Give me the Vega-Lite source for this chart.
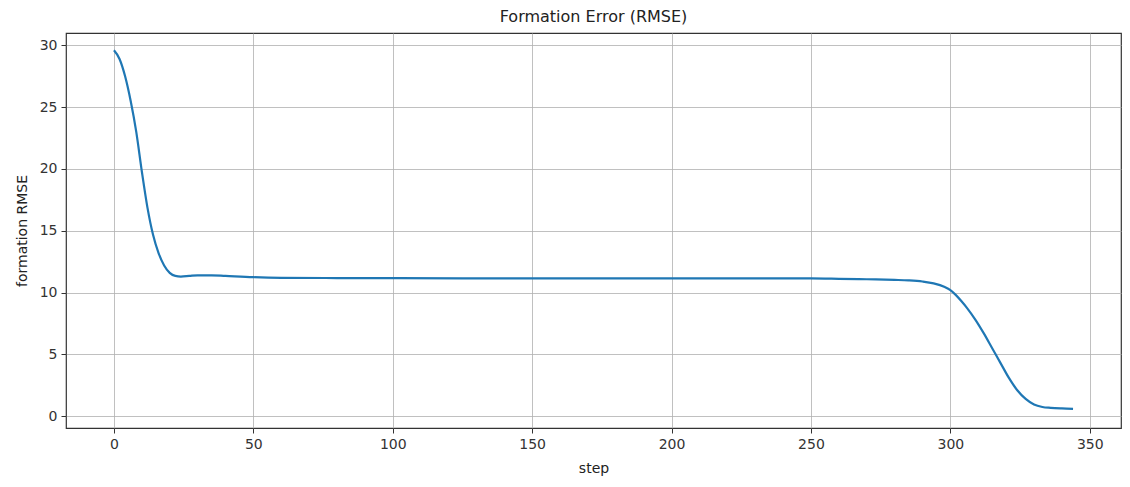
{
  "$schema": "https://vega.github.io/schema/vega-lite/v6.json",
  "autosize": {"type": "none"},
  "padding": {"left": 66, "top": 33, "right": 9, "bottom": 59},
  "width": 1055,
  "height": 395,
  "background": "white",
  "title": {"text": "Formation Error (RMSE)", "fontSize": 16, "fontWeight": "normal", "font": "DejaVu Sans", "color": "#222", "offset": 8},
  "config": {
    "view": {"stroke": "#333", "strokeWidth": 1.2},
    "axis": {
      "labelFont": "DejaVu Sans", "labelFontSize": 14, "labelColor": "#333",
      "titleFont": "DejaVu Sans", "titleFontSize": 14, "titleFontWeight": "normal", "titleColor": "#222",
      "gridColor": "#b0b0b0", "gridWidth": 1, "gridOpacity": 0.8,
      "tickColor": "#333", "tickSize": 5, "domain": false
    }
  },
  "data": {"values": [
    {"step": 0, "rmse": 29.6}, {"step": 2, "rmse": 28.9}, {"step": 4, "rmse": 27.5},
    {"step": 6, "rmse": 25.5}, {"step": 8, "rmse": 23.0}, {"step": 10, "rmse": 19.8},
    {"step": 12, "rmse": 16.9}, {"step": 14, "rmse": 14.7}, {"step": 16, "rmse": 13.2},
    {"step": 18, "rmse": 12.2}, {"step": 20, "rmse": 11.6}, {"step": 22, "rmse": 11.35},
    {"step": 24, "rmse": 11.3}, {"step": 27, "rmse": 11.35}, {"step": 30, "rmse": 11.4},
    {"step": 35, "rmse": 11.4}, {"step": 40, "rmse": 11.35}, {"step": 50, "rmse": 11.25},
    {"step": 60, "rmse": 11.2}, {"step": 80, "rmse": 11.18}, {"step": 100, "rmse": 11.17},
    {"step": 125, "rmse": 11.16}, {"step": 150, "rmse": 11.16}, {"step": 175, "rmse": 11.16},
    {"step": 200, "rmse": 11.16}, {"step": 225, "rmse": 11.15}, {"step": 250, "rmse": 11.15},
    {"step": 260, "rmse": 11.12}, {"step": 270, "rmse": 11.08}, {"step": 280, "rmse": 11.03},
    {"step": 285, "rmse": 10.99}, {"step": 290, "rmse": 10.9}, {"step": 294, "rmse": 10.75},
    {"step": 298, "rmse": 10.45}, {"step": 300, "rmse": 10.2}, {"step": 302, "rmse": 9.8},
    {"step": 304, "rmse": 9.3}, {"step": 306, "rmse": 8.75}, {"step": 309, "rmse": 7.8},
    {"step": 312, "rmse": 6.7}, {"step": 315, "rmse": 5.5},
    {"step": 318, "rmse": 4.3}, {"step": 321, "rmse": 3.1}, {"step": 324, "rmse": 2.1},
    {"step": 327, "rmse": 1.4}, {"step": 330, "rmse": 0.95}, {"step": 333, "rmse": 0.75},
    {"step": 336, "rmse": 0.68}, {"step": 340, "rmse": 0.63}, {"step": 344, "rmse": 0.6}
  ]},
  "mark": {"type": "line", "color": "#1f77b4", "strokeWidth": 2.2, "interpolate": "monotone"},
  "encoding": {
    "x": {"field": "step", "type": "quantitative", "title": "step",
      "scale": {"domain": [-17.2, 361.2], "nice": false, "zero": false},
      "axis": {"values": [0, 50, 100, 150, 200, 250, 300, 350], "titlePadding": 10, "labelPadding": 4}},
    "y": {"field": "rmse", "type": "quantitative", "title": "formation RMSE",
      "scale": {"domain": [-0.95, 31.0], "nice": false, "zero": false},
      "axis": {"values": [0, 5, 10, 15, 20, 25, 30], "titlePadding": 10, "labelPadding": 4}}
  }
}
